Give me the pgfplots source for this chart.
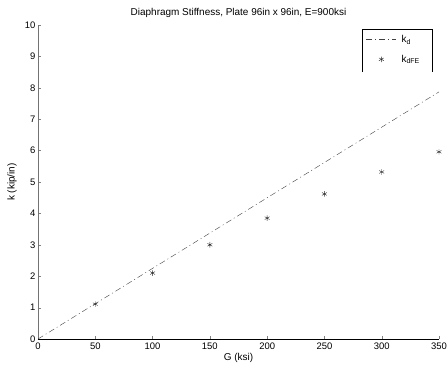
\documentclass[border=0pt]{standalone}
\usepackage{pgfplots}
\pgfplotsset{compat=1.18}
\usepackage{fontspec}
\setmainfont{Liberation Sans}
\pgfplotsset{
  linelegend/.style={legend image code/.code={\draw[##1] (0bp,0bp) -- (30bp,0bp);}},
  marklegend/.style={legend image code/.code={\draw[##1] plot coordinates {(15bp,0bp)};}},
}
\begin{document}
\begin{tikzpicture}
\begin{axis}[
  name=ax,
  scale only axis,
  width=401bp, height=314bp,
  xmin=0, xmax=350, ymin=0, ymax=10,
  axis x line=bottom, axis y line=left,
  axis line style={-, black!55},
  x axis line style={black},
  xtick={0,50,...,350}, ytick={0,1,...,10},
  tick align=inside, major tick length=3bp,
  tick style={black!50},
  every tick label/.append style={font=\fontsize{9.5}{11}\selectfont},
  yticklabel style={xshift=1bp},
  /pgf/number format/assume math mode=true,
  title={Diaphragm Stiffness, Plate 96in x 96in, E=900ksi},
  title style={font=\fontsize{10}{12}\selectfont, at={(axis description cs:0.5,1.019)}, anchor=center, yshift=0pt},
  xlabel={G (ksi)}, ylabel={k (kip/in)},
  label style={font=\fontsize{10}{12}\selectfont},
  xlabel style={at={(axis description cs:0.5,-0.060)}, anchor=center},
  ylabel style={at={(axis description cs:-0.065,0.5)}, anchor=center},
  legend style={at={(rel axis cs:0.808,0.987)}, anchor=north west, draw=none, fill=none,
    font=\fontsize{10}{12}\selectfont, row sep=7bp, inner xsep=4bp, inner ysep=4bp,
    nodes={inner xsep=5bp}},
  legend cell align=left,
  clip=false,
]
\addplot[black!75, dash pattern=on 6bp off 3bp on 1bp off 3bp, thin, linelegend] coordinates {(0,0) (350,7.87)};
\addlegendentry{$\mathrm{k}_{\mathrm{d}}$}
\addplot[only marks, mark=asterisk, mark size=2.8bp, black!85, marklegend] coordinates {
(50,1.11) (100,2.10) (150,3.00) (200,3.85) (250,4.62) (300,5.32) (350,5.96)};
\addlegendentry{$\mathrm{k}_{\mathrm{dFE}}$}
\draw[black] (rel axis cs:0.808,0.850) -- (rel axis cs:0.808,0.987) -- (rel axis cs:0.983,0.987) -- (rel axis cs:0.983,0.850);
\end{axis}
\pgfresetboundingbox
\path ([shift={(-38bp,-32bp)}]ax.south west) rectangle ([shift={(9bp,25bp)}]ax.north east);
\end{tikzpicture}
\end{document}
